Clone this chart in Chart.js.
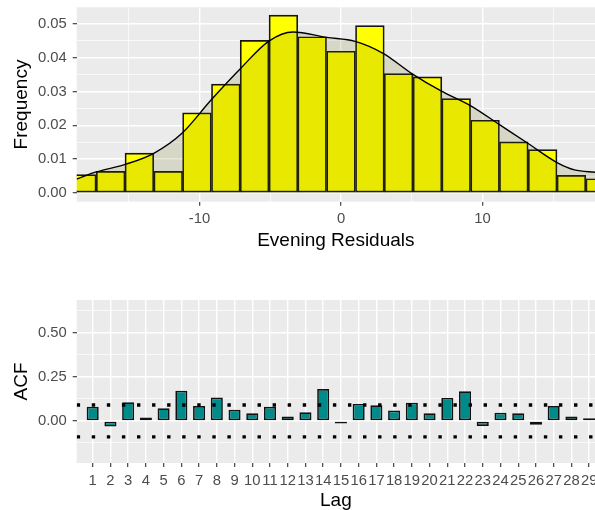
<!DOCTYPE html>
<html>
<head>
<meta charset="utf-8">
<script src="https://cdn.jsdelivr.net/npm/chart.js@4.4.1/dist/chart.umd.min.js"></script>
<style>
  html, body { margin: 0; padding: 0; background: #fff; overflow: hidden; }
  #wrap { position: relative; width: 595px; height: 510px; overflow: hidden; }
  canvas { position: absolute; left: 0; }
  #histChart { top: 0; }
  #acfChart { top: 260px; }
</style>
</head>
<body>
<div id="wrap">
  <canvas id="histChart" width="595" height="255"></canvas>
  <canvas id="acfChart" width="595" height="255"></canvas>
</div>
<script>
// histogram of evening residuals (density scale)
const binCenters = [-18.32, -16.28, -14.25, -12.21, -10.18, -8.14, -6.11, -4.07, -2.04, 0,
                    2.04, 4.07, 6.11, 8.14, 10.18, 12.21, 14.25, 16.28, 18.32];
const binDensity = [0.0054, 0.0064, 0.0118, 0.0064, 0.0237, 0.0322, 0.0451, 0.0526, 0.0462, 0.0419,
                    0.0495, 0.0353, 0.0343, 0.0279, 0.0215, 0.0151, 0.0128, 0.0052, 0.0042];

// kernel density curve
const densX = [-18.7, -17.3, -15.2, -13.2, -11.2, -9.2, -7.1, -5.1, -3.4, -1.0,
               1.0, 3.0, 5.0, 7.1, 9.2, 11.2, 13.2, 15.3, 16.5, 18.0];
const densY = [0.0041, 0.0062, 0.0085, 0.0118, 0.0178, 0.0274, 0.0368, 0.0449, 0.0476, 0.0460,
               0.0448, 0.0412, 0.0353, 0.0301, 0.0257, 0.0202, 0.0147, 0.0089, 0.0068, 0.0061];

const histXTicks = [-15, -10, -5, 0, 5, 10, 15];
const histYTicks = [0, 0.005, 0.01, 0.015, 0.02, 0.025, 0.03, 0.035, 0.04, 0.045, 0.05];

// autocorrelation
const lags = [1, 2, 3, 4, 5, 6, 7, 8, 9, 10, 11, 12, 13, 14, 15, 16, 17, 18, 19, 20,
              21, 22, 23, 24, 25, 26, 27, 28, 29];
const acfValues = [0.081, -0.032, 0.106, 0.019, 0.072, 0.172, 0.085, 0.133, 0.063, 0.044,
                   0.081, 0.025, 0.049, 0.182, -0.004, 0.097, 0.089, 0.059, 0.104, 0.044,
                   0.131, 0.169, -0.028, 0.047, 0.044, -0.021, 0.085, 0.025, 0.015];
const confBound = 0.0907;
const acfYTicks = [-0.125, 0, 0.125, 0.25, 0.375, 0.5, 0.625];

Chart.defaults.font.family = '"Liberation Sans", Arial, sans-serif';
Chart.defaults.animation = false;

const panelBg = {
  id: 'panelBg',
  beforeDraw(chart) {
    const { ctx, chartArea: a } = chart;
    ctx.save();
    ctx.fillStyle = '#ebebeb';
    ctx.fillRect(a.left, a.top, a.right - a.left, a.bottom - a.top);
    ctx.restore();
  }
};

function noPad(s) {
  s.paddingLeft = 0; s.paddingRight = 0; s.paddingTop = 0; s.paddingBottom = 0;
}

function gridStyle(isMajor) {
  return {
    offset: false,
    color: '#ffffff',
    lineWidth: c => isMajor(c.tick ? c.tick.value : 0) ? 1.4 : 0.7,
    tickColor: c => isMajor(c.tick ? c.tick.value : 0) ? '#333333' : 'rgba(0,0,0,0)',
    tickLength: 4,
    tickWidth: 1.1
  };
}

const tickFont = { size: 14.8 };
const titleFont = { size: 19 };

const isMajor10 = v => Math.abs(v % 10) < 1e-9;
const isMajor001 = v => Math.abs(Math.round(v * 100) - v * 100) < 1e-6;
const isMajorQuarter = v => Math.abs(Math.round(v * 4) - v * 4) < 1e-6;

new Chart(document.getElementById('histChart'), {
  type: 'bar',
  data: {
    datasets: [
      {
        type: 'line',
        data: densX.map((x, i) => ({ x: x, y: densY[i] })),
        borderColor: '#000000',
        borderWidth: 1.4,
        backgroundColor: 'rgba(100,100,0,0.15)',
        fill: 'origin',
        pointRadius: 0,
        cubicInterpolationMode: 'monotone',
        order: 0
      },
      {
        data: binCenters.map((x, i) => ({ x: x, y: binDensity[i] })),
        backgroundColor: '#ffff00',
        borderColor: '#151515',
        borderWidth: 1.7,
        borderSkipped: false,
        barPercentage: 1,
        categoryPercentage: 1,
        order: 1
      }
    ]
  },
  options: {
    responsive: false,
    layout: { padding: { top: 7.3, left: 0, right: 0, bottom: 0 } },
    plugins: { legend: { display: false }, tooltip: { enabled: false } },
    scales: {
      x: {
        type: 'linear', min: -18.68, max: 17.95, offset: false,
        afterBuildTicks: s => { s.ticks = histXTicks.map(v => ({ value: v })); },
        afterFit: s => { s.height = 53.3; noPad(s); },
        grid: gridStyle(isMajor10),
        border: { display: false },
        ticks: { color: '#4d4d4d', font: tickFont, padding: 4, maxRotation: 0, autoSkip: false,
                 callback: v => isMajor10(v) ? String(v) : '' },
        title: { display: true, text: 'Evening Residuals', color: '#000', font: titleFont, padding: { top: 4, bottom: 3 } }
      },
      y: {
        type: 'linear', min: -0.0026, max: 0.0549,
        afterBuildTicks: s => { s.ticks = histYTicks.map(v => ({ value: v })); },
        afterFit: s => { s.width = 76.7; noPad(s); },
        grid: gridStyle(isMajor001),
        border: { display: false },
        ticks: { color: '#4d4d4d', font: tickFont, padding: 6, autoSkip: false,
                 callback: v => isMajor001(v) ? v.toFixed(2) : '' },
        title: { display: true, text: 'Frequency', color: '#000', font: titleFont, padding: { top: 10, bottom: 0 } }
      }
    }
  },
  plugins: [panelBg]
});

const acfXMin = 0.098, acfXMax = 29.33;

new Chart(document.getElementById('acfChart'), {
  type: 'bar',
  data: {
    datasets: [
      {
        type: 'line',
        data: [{ x: acfXMin, y: confBound }, { x: acfXMax, y: confBound }],
        borderColor: '#000000',
        borderWidth: 3.4,
        borderDash: [3.4, 11.67],
        pointRadius: 0,
        fill: false,
        order: 0
      },
      {
        type: 'line',
        data: [{ x: acfXMin, y: -confBound }, { x: acfXMax, y: -confBound }],
        borderColor: '#000000',
        borderWidth: 3.4,
        borderDash: [3.4, 11.67],
        pointRadius: 0,
        fill: false,
        order: 0
      },
      {
        data: lags.map((l, i) => ({ x: l, y: acfValues[i] })),
        backgroundColor: '#008b8b',
        borderColor: '#111111',
        borderWidth: 1.7,
        borderSkipped: false,
        barPercentage: 0.68,
        categoryPercentage: 1,
        minBarLength: 2.5,
        order: 1
      }
    ]
  },
  options: {
    responsive: false,
    layout: { padding: { top: 40, left: 0, right: 0, bottom: 0 } },
    plugins: { legend: { display: false }, tooltip: { enabled: false } },
    scales: {
      x: {
        type: 'linear', min: acfXMin, max: acfXMax, offset: false,
        afterBuildTicks: s => { s.ticks = lags.map(v => ({ value: v })); },
        afterFit: s => { s.height = 52; noPad(s); },
        grid: gridStyle(() => true),
        border: { display: false },
        ticks: { color: '#4d4d4d', font: tickFont, padding: 5, maxRotation: 0, autoSkip: false,
                 callback: v => String(v) },
        title: { display: true, text: 'Lag', color: '#000', font: titleFont, padding: { top: 2, bottom: 3 } }
      },
      y: {
        type: 'linear', min: -0.239, max: 0.6875,
        afterBuildTicks: s => { s.ticks = acfYTicks.map(v => ({ value: v })); },
        afterFit: s => { s.width = 76.7; noPad(s); },
        grid: gridStyle(isMajorQuarter),
        border: { display: false },
        ticks: { color: '#4d4d4d', font: tickFont, padding: 6, autoSkip: false,
                 callback: v => isMajorQuarter(v) ? v.toFixed(2) : '' },
        title: { display: true, text: 'ACF', color: '#000', font: titleFont, padding: { top: 10, bottom: 0 } }
      }
    }
  },
  plugins: [panelBg]
});
</script>
</body>
</html>
